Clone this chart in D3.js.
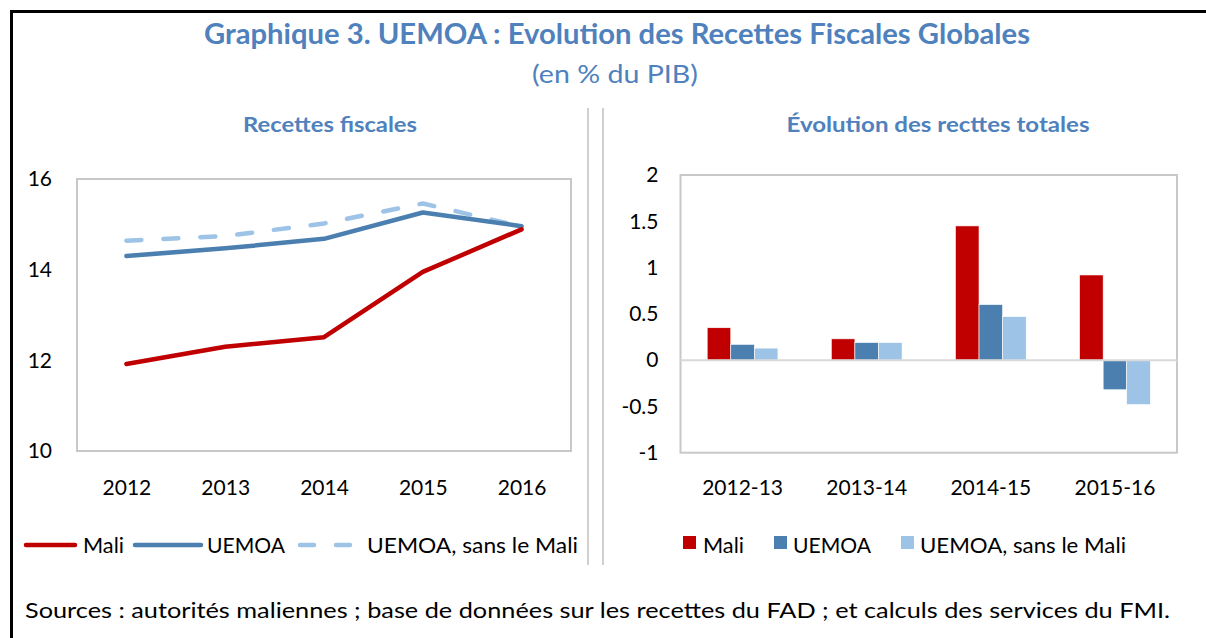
<!DOCTYPE html>
<html><head><meta charset="utf-8">
<script src="https://cdn.jsdelivr.net/npm/d3@7"></script>
<style>html,body{margin:0;padding:0;background:#fff;}svg{display:block;font-family:Lato,"Open Sans",sans-serif;}</style>
</head><body>
<svg id="c" width="1206" height="638"></svg>
<script>
// ---- data ----
const years = ["2012","2013","2014","2015","2016"];
const mali = [11.92, 12.30, 12.51, 13.95, 14.89];
const uemoa = [14.30, 14.47, 14.68, 15.26, 14.96];
const uemoaSansMali = [14.64, 14.74, 15.02, 15.46, 14.95];
const leftTicks = [10, 12, 14, 16];

const periods = ["2012-13","2013-14","2014-15","2015-16"];
const maliChg = [0.35, 0.23, 1.45, 0.92];
const uemoaChg = [0.17, 0.19, 0.60, -0.32];
const sansChg = [0.13, 0.19, 0.47, -0.48];
const rightTicks = [-1, -0.5, 0, 0.5, 1, 1.5, 2];

const seriesNames = ["Mali", "UEMOA", "UEMOA, sans le Mali"];
const colors = ["#C00000", "#4A7FB0", "#9DC3E6"];
const blue = "#4F81BD";

const svg = d3.select("#c");

function txt(x, y, s, o = {}) {
  const t = svg.append("text").attr("x", x).attr("y", y).text(s)
    .attr("font-size", o.size || 20).attr("fill", o.fill || "#000")
    .attr("text-anchor", o.anchor || "start")
    .attr("font-weight", o.weight || "normal");
  if (o.w) t.attr("textLength", o.w).attr("lengthAdjust", "spacingAndGlyphs");
  return t;
}
function styleTicks(g, dy) {
  g.select(".domain").remove();
  g.selectAll("text").attr("font-size", 21).attr("font-family", "Lato").attr("fill", "#000");
  if (dy) g.selectAll("text").attr("dy", dy);
}

// frame
svg.append("line").attr("x1", 10).attr("x2", 1206).attr("y1", 11.5).attr("y2", 11.5).attr("stroke", "#000").attr("stroke-width", 3);
svg.append("line").attr("x1", 11.5).attr("x2", 11.5).attr("y1", 10).attr("y2", 638).attr("stroke", "#000").attr("stroke-width", 3);

// dividers
[588, 603].forEach(x => svg.append("line").attr("x1", x).attr("x2", x).attr("y1", 108).attr("y2", 565).attr("stroke", "#D0D0D0").attr("stroke-width", 2));

// titles
txt(617, 44, "Graphique 3. UEMOA : Evolution des Recettes Fiscales Globales", {size: 29, fill: blue, weight: "bold", anchor: "middle", w: 826});
txt(615, 83, "(en % du PIB)", {size: 25, fill: blue, anchor: "middle", w: 166});
txt(330, 132, "Recettes fiscales", {size: 21, fill: blue, weight: "bold", anchor: "middle", w: 174});
txt(938, 132, "Évolution des recttes totales", {size: 21, fill: blue, weight: "bold", anchor: "middle", w: 303});

// ---- left chart ----
const L = {x0: 77, x1: 571, y0: 179, y1: 451};
const xL = d3.scalePoint().domain(years).range([L.x0, L.x1]).padding(0.5);
const yL = d3.scaleLinear().domain([10, 16]).range([L.y1, L.y0]);
svg.append("rect").attr("x", L.x0).attr("y", L.y0).attr("width", L.x1 - L.x0).attr("height", L.y1 - L.y0)
  .attr("fill", "none").attr("stroke", "#C8C8C8").attr("stroke-width", 2);
const gyL = svg.append("g").attr("transform", `translate(${L.x0 - 25},0)`)
  .call(d3.axisLeft(yL).tickValues(leftTicks).tickSize(0).tickPadding(0).tickFormat(d3.format("d")));
styleTicks(gyL);
const gxL = svg.append("g").attr("transform", `translate(0,${L.y1 + 24})`)
  .call(d3.axisBottom(xL).tickSize(0).tickPadding(0));
styleTicks(gxL, "0.95em");

const lineGen = d3.line().x((d, i) => xL(years[i])).y(d => yL(d));
const lineSeries = [
  {vals: mali, color: colors[0], dash: null},
  {vals: uemoa, color: colors[1], dash: null},
  {vals: uemoaSansMali, color: colors[2], dash: "15,22"}
];
[2, 1, 0].forEach(i => {
  const s = lineSeries[i];
  svg.append("path").attr("d", lineGen(s.vals)).attr("fill", "none")
    .attr("stroke", s.color).attr("stroke-width", 4.5)
    .attr("stroke-linejoin", "round").attr("stroke-linecap", "round")
    .attr("stroke-dasharray", s.dash);
});

// left legend
const ly = 545;
const legL = [
  {x1: 26, x2: 75, tx: 83, tw: 41},
  {x1: 135, x2: 201, tx: 207, tw: 78},
  {x1: 300, x2: 360, tx: 367, tw: 211}
];
legL.forEach((d, i) => {
  const s = lineSeries[i];
  svg.append("line").attr("x1", d.x1).attr("x2", d.x2).attr("y1", ly).attr("y2", ly)
    .attr("stroke", s.color).attr("stroke-width", 4.5).attr("stroke-linecap", "round")
    .attr("stroke-dasharray", i === 2 ? "14,22" : null);
  txt(d.tx, ly + 8, seriesNames[i], {size: 21, w: d.tw});
});

// ---- right chart ----
const R = {x0: 680.5, x1: 1177, y0: 175, y1: 452.7};
const x0 = d3.scaleBand().domain(periods).range([R.x0, R.x1]).paddingInner(0.43).paddingOuter(0.215);
const x1 = d3.scaleBand().domain(d3.range(3)).range([0, x0.bandwidth()]);
const yR = d3.scaleLinear().domain([-1, 2]).range([R.y1, R.y0]);
svg.append("rect").attr("x", R.x0).attr("y", R.y0).attr("width", R.x1 - R.x0).attr("height", R.y1 - R.y0)
  .attr("fill", "none").attr("stroke", "#C8C8C8").attr("stroke-width", 2);
const gyR = svg.append("g").attr("transform", `translate(${R.x0 - 22},0)`)
  .call(d3.axisLeft(yR).tickValues(rightTicks).tickSize(0).tickPadding(0).tickFormat(d => String(d)));
styleTicks(gyR);
const gxR = svg.append("g").attr("transform", `translate(0,${L.y1 + 24})`)
  .call(d3.axisBottom(x0).tickSize(0).tickPadding(0));
styleTicks(gxR, "0.95em");

const barData = [maliChg, uemoaChg, sansChg];
periods.forEach((p, j) => {
  barData.forEach((vals, i) => {
    const v = vals[j];
    svg.append("rect")
      .attr("x", x0(p) + x1(i)).attr("width", x1.bandwidth())
      .attr("y", yR(Math.max(0, v))).attr("height", Math.abs(yR(v) - yR(0)))
      .attr("fill", colors[i]).attr("stroke", "#fff").attr("stroke-width", 0.6);
  });
});
svg.append("line").attr("x1", R.x0).attr("x2", R.x1).attr("y1", yR(0)).attr("y2", yR(0))
  .attr("stroke", "#D9D9D9").attr("stroke-width", 2);

// right legend
const legR = [
  {sx: 683, tx: 703, tw: 41},
  {sx: 774, tx: 793, tw: 78},
  {sx: 901, tx: 920, tw: 206}
];
legR.forEach((d, i) => {
  svg.append("rect").attr("x", d.sx).attr("y", 536).attr("width", 13).attr("height", 13).attr("fill", colors[i]);
  txt(d.tx, ly + 8, seriesNames[i], {size: 21, w: d.tw});
});

// sources
txt(25, 618, "Sources : autorités maliennes ; base de données sur les recettes du FAD ; et calculs des services du FMI.", {size: 22, w: 1145});
</script>
</body></html>
